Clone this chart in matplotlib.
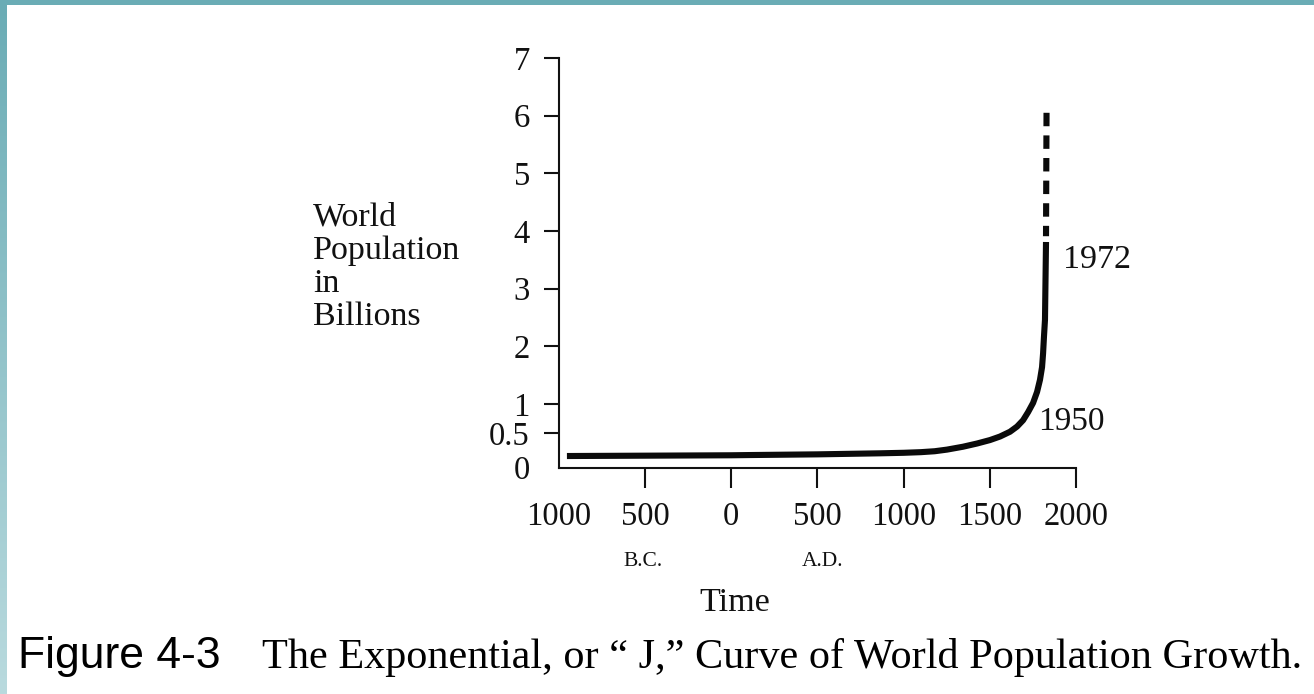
import numpy as np
import matplotlib
matplotlib.use("Agg")
import matplotlib.pyplot as plt
from matplotlib.patches import Rectangle
from matplotlib.colors import LinearSegmentedColormap
import matplotlib.transforms as mtransforms

# ---- data (x in drawn years, negative = B.C.) ----
years_solid = [-954, -500, 0, 108, 500, 863, 1000, 1100, 1180, 1251, 1344, 1426, 1501, 1559,
               1617, 1658, 1693, 1722, 1751, 1774, 1791, 1803, 1809, 1814, 1820, 1826]
pop_solid = [0.099, 0.105, 0.112, 0.116, 0.128, 0.146, 0.155, 0.166, 0.182, 0.21, 0.26, 0.316,
             0.376, 0.437, 0.52, 0.61, 0.72, 0.86, 1.02, 1.21, 1.42, 1.64, 1.88,
             2.16, 2.46, 3.81]
years_dashed = [1829, 1826]
pop_dashed = [6.05, 3.91]

x_ticks = [-1000, -500, 0, 500, 1000, 1500, 2000]
x_labels = ["1000", "500", "0", "500", "1000", "1500", "2000"]
y_ticks = [0, 0.5, 1, 2, 3, 4, 5, 6, 7]
y_labels = ["0", "0.5", "1", "2", "3", "4", "5", "6", "7"]
ylabel_lines = ["World", "Population", "in", "Billions"]
era_labels = [("B.C.", -510), ("A.D.", 530)]
annotations = [("1972", 1826, 3.50), ("1950", 1740, 0.70)]
caption_num = "Figure 4-3"
caption_text = "The Exponential, or \u201c J,\u201d Curve of World Population Growth."

W, H = 1314, 694
SERIF = ["Liberation Serif", "DejaVu Serif"]
SANS = ["Liberation Sans", "DejaVu Sans"]
INK = "#111111"

fig = plt.figure(figsize=(W / 100, H / 100), dpi=100)
fig.patch.set_facecolor("white")

def fx(px):
    return px / W

def fy(py):
    return 1 - py / H

# frame strips (teal)
top_col = "#6aacb5"
fig.patches.append(Rectangle((0, fy(5)), 1, 5 / H, transform=fig.transFigure,
                             facecolor=top_col, edgecolor="none", zorder=0))
gax = fig.add_axes([0, 0, 7 / W, 1])
grad = np.linspace(0, 1, 256).reshape(-1, 1)
cmap = LinearSegmentedColormap.from_list("edge", ["#6aacb5", "#b9dade"])
gax.imshow(grad, aspect="auto", cmap=cmap, origin="upper")
gax.axis("off")

# main axes: x -1000 at px 559, 2000 at px 1076; y 7 at py 58, bottom at py 467.5
ymin, ymax = -0.10, 7.0
ax = fig.add_axes([fx(559), fy(467.5), (1076 - 559) / W, (467.5 - 58) / H])
ax.set_xlim(-1000, 2000)
ax.set_ylim(ymin, ymax)
ax.set_facecolor("none")
for s in ("top", "right"):
    ax.spines[s].set_visible(False)
for s in ("left", "bottom"):
    ax.spines[s].set_linewidth(1.5)
    ax.spines[s].set_color(INK)

lw = 4.4
ax.plot(years_solid, pop_solid, color="#0a0a0a", lw=lw, solid_capstyle="butt",
        solid_joinstyle="round", zorder=3)
ax.plot(years_dashed, pop_dashed, color="#0a0a0a", lw=lw, linestyle=(0, (2.2, 1.5)),
        dash_capstyle="butt", zorder=3)

ax.set_xticks(x_ticks)
ax.set_xticklabels(x_labels, fontfamily=SERIF, fontsize=23.5)
ax.set_yticks(y_ticks)
ax.set_yticklabels(y_labels, fontfamily=SERIF, fontsize=23.5)
ax.tick_params(axis="x", direction="out", length=14.5, width=1.5, pad=10, colors=INK)
ax.tick_params(axis="y", direction="out", length=11, width=1.5, pad=10, colors=INK)
# the corner ticks carry labels but no tick line
ax.xaxis.get_major_ticks()[0].tick1line.set_visible(False)
ax.yaxis.get_major_ticks()[0].tick1line.set_visible(False)
# move the "0" label a little lower, as in the print
lab0 = ax.get_yticklabels()[0]
lab0.set_transform(lab0.get_transform() + mtransforms.ScaledTranslation(0, -6 / 100, fig.dpi_scale_trans))

# y label, line by line
ybases = [226, 259, 292, 325]
for txt, yb in zip(ylabel_lines, ybases):
    fig.text(fx(313), fy(yb), txt, fontfamily=SERIF, fontsize=24.5, ha="left", va="baseline",
             color=INK)

# era labels
btrans = mtransforms.blended_transform_factory(ax.transData, fig.transFigure)
for txt, xv in era_labels:
    ax.text(xv, fy(561), txt, transform=btrans, fontfamily=SERIF, fontsize=15.5,
            ha="center", va="center", color=INK)

fig.text(fx(735), fy(603), "Time", fontfamily=SERIF, fontsize=24.5, ha="center", va="center",
         color=INK)

# point annotations
ax.annotate(annotations[0][0], (annotations[0][1], annotations[0][2]), xytext=(12, 0),
            textcoords="offset points", fontfamily=SERIF, fontsize=24.5, ha="left", va="center",
            color=INK)
ax.annotate(annotations[1][0], (annotations[1][1], annotations[1][2]), xytext=(5, 0),
            textcoords="offset points", fontfamily=SERIF, fontsize=24, ha="left", va="center",
            color=INK)

# caption
fig.text(fx(18), fy(668), caption_num, fontfamily=SANS, fontsize=32, ha="left", va="baseline",
         color="#000000")
fig.text(fx(262), fy(668), caption_text, fontfamily=SERIF, fontsize=30.4, ha="left", va="baseline",
         color="#000000")

fig.savefig("out.png", dpi=100, facecolor="white")
